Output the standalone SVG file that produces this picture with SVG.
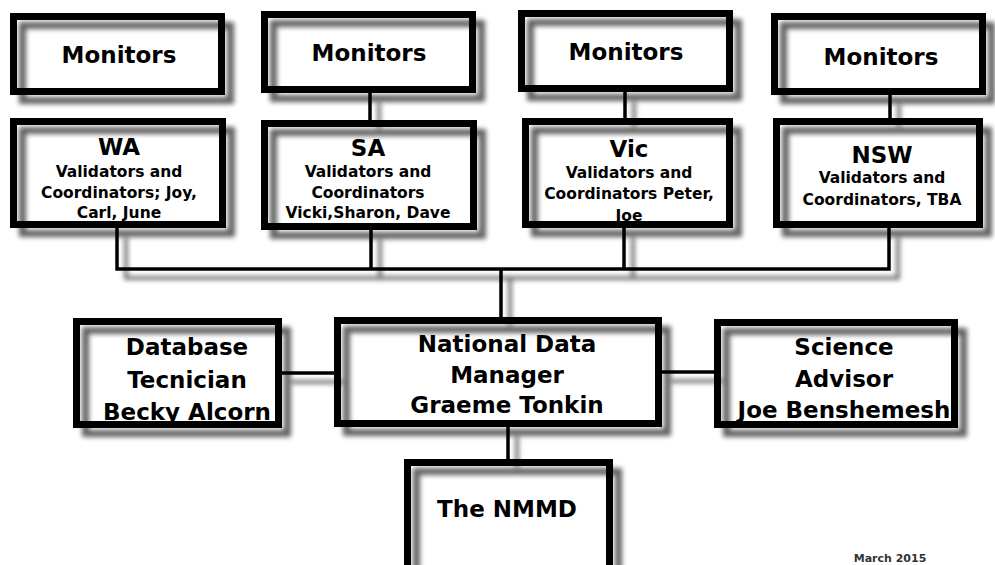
<svg xmlns="http://www.w3.org/2000/svg" width="995" height="565" viewBox="0 0 995 565">
<defs>
<filter id="sh" filterUnits="userSpaceOnUse" x="0" y="0" width="995" height="565">
<feGaussianBlur in="SourceAlpha" stdDeviation="2.6"/>
<feOffset dx="9" dy="9" result="o"/>
<feComponentTransfer><feFuncA type="linear" slope="0.62"/></feComponentTransfer>
<feMerge><feMergeNode/><feMergeNode in="SourceGraphic"/></feMerge>
</filter>
</defs>
<style>
.box{fill:none;stroke:#000;stroke-width:7;filter:url(#sh)}
.ln{fill:none;stroke:#000;stroke-width:3.5;filter:url(#sh)}
text{font-family:"DejaVu Sans","Liberation Sans",sans-serif;font-weight:bold;fill:#000;text-anchor:middle}
.b{font-size:23px}
.s{font-size:15.5px}
.d{font-size:11px;fill:#333}
</style>
<rect width="995" height="565" fill="#fff"/>
<g id="connectors">
<path class="ln" d="M370,93V120M625,92V118M890,95V118"/>
<path class="ln" d="M117,228V269H889V228M371,230V269M624,228V269M501,269V317"/>
<path class="ln" d="M282,373H334M662,372H714M508,427V459"/>
</g>
<g id="mon-wa"><rect class="box" x="13.5" y="16.5" width="208" height="75"/><text class="b" x="119" y="63">Monitors</text></g>
<g id="mon-sa"><rect class="box" x="264.5" y="14.5" width="208" height="75"/><text class="b" x="369" y="61">Monitors</text></g>
<g id="mon-vic"><rect class="box" x="521.5" y="13.5" width="208" height="75"/><text class="b" x="626" y="60">Monitors</text></g>
<g id="mon-nsw"><rect class="box" x="774.5" y="16.5" width="208" height="75"/><text class="b" x="881" y="65">Monitors</text></g>
<g id="wa"><rect class="box" x="13.5" y="121.5" width="209" height="103"/>
<text class="b" x="119" y="155">WA</text>
<text class="s" x="119" y="177">Validators and</text>
<text class="s" x="119" y="198">Coordinators; Joy,</text>
<text class="s" x="119" y="218">Carl, June</text></g>
<g id="sa"><rect class="box" x="264.5" y="123.5" width="209" height="103"/>
<text class="b" x="368" y="156">SA</text>
<text class="s" x="368" y="177">Validators and</text>
<text class="s" x="368" y="198">Coordinators</text>
<text class="s" x="368" y="218">Vicki,Sharon, Dave</text></g>
<g id="vic"><rect class="box" x="525.5" y="121.5" width="204" height="103"/>
<text class="b" x="629" y="157">Vic</text>
<text class="s" x="629" y="178">Validators and</text>
<text class="s" x="629" y="199">Coordinators Peter,</text>
<text class="s" x="629" y="221">Joe</text></g>
<g id="nsw"><rect class="box" x="776.5" y="121.5" width="203" height="103"/>
<text class="b" x="882" y="163">NSW</text>
<text class="s" x="882" y="183">Validators and</text>
<text class="s" x="882" y="205">Coordinators, TBA</text></g>
<g id="db"><rect class="box" x="76.5" y="321.5" width="202" height="103"/>
<text class="b" x="187" y="355">Database</text>
<text class="b" x="187" y="388">Tecnician</text>
<text class="b" x="187" y="420">Becky Alcorn</text></g>
<g id="ndm"><rect class="box" x="337.5" y="320.5" width="321" height="103"/>
<text class="b" x="507" y="352">National Data</text>
<text class="b" x="507" y="383">Manager</text>
<text class="b" x="507" y="413">Graeme Tonkin</text></g>
<g id="sci"><rect class="box" x="717.5" y="322.5" width="237" height="102"/>
<text class="b" x="844" y="355">Science</text>
<text class="b" x="844" y="387">Advisor</text>
<text class="b" x="844" y="418">Joe Benshemesh</text></g>
<g id="nmmd"><rect class="box" x="407.5" y="462.5" width="202" height="120"/>
<text class="b" x="507" y="517">The NMMD</text></g>
<text class="d" x="890" y="562">March 2015</text>
</svg>
